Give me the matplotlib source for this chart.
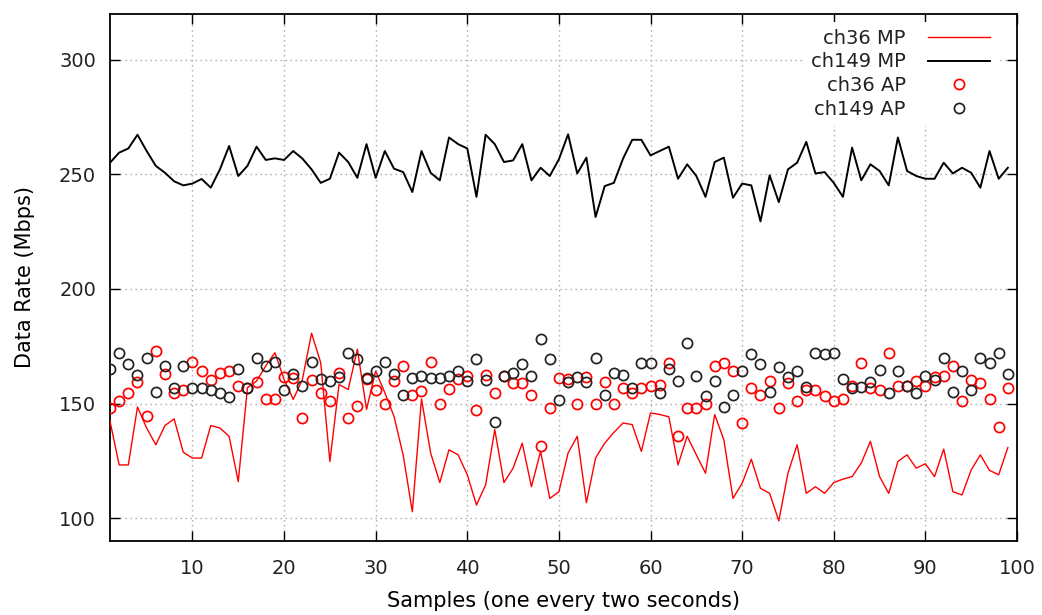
import matplotlib
matplotlib.use("Agg")
import matplotlib.pyplot as plt
import numpy as np

samples = list(range(1, 100))

ch149_mp = [255.1, 259.5, 261.3, 267.3, 260.2, 253.7, 250.7, 247.0, 245.2, 246.0,
            248.0, 244.2, 252.2, 262.4, 249.3, 253.7, 262.1, 256.3, 257.0, 256.3,
            260.2, 256.9, 252.2, 246.3, 248.1, 259.5, 255.4, 248.5, 263.2, 248.5,
            260.2, 252.5, 251.0, 242.3, 260.2, 250.7, 247.4, 266.1, 263.2, 261.3,
            240.2, 267.3, 263.2, 255.4, 256.1, 263.2, 247.4, 252.9, 249.3, 256.6,
            267.5, 250.4, 257.3, 231.4, 244.9, 246.3, 256.9, 265.1, 265.1, 258.3,
            260.2, 262.1, 248.1, 254.4, 249.3, 240.2, 255.4, 257.3, 239.8, 246.0,
            245.2, 229.5, 249.6, 237.9, 252.2, 255.1, 264.2, 250.4, 251.0, 246.3,
            240.2, 261.7, 247.4, 254.4, 251.5, 245.2, 266.1, 251.5, 249.3, 248.1,
            248.1, 255.1, 250.4, 252.9, 250.7, 244.2, 260.2, 248.1, 252.9]

ch36_mp = [142.3, 123.2, 123.2, 148.5, 139.3, 132.0, 140.4, 143.3, 128.7, 126.2,
           126.2, 140.4, 139.3, 135.7, 115.9, 156.9, 159.8, 166.4, 172.2, 160.5,
           151.8, 160.5, 180.7, 167.8, 124.7, 158.3, 156.1, 173.7, 147.4, 164.2,
           154.7, 144.4, 127.5, 102.8, 152.0, 128.4, 115.5, 129.8, 127.6, 118.9,
           105.7, 114.5, 138.6, 115.5, 121.8, 132.7, 113.7, 129.1, 108.6, 111.5,
           128.4, 135.7, 106.7, 126.2, 132.7, 137.4, 141.5, 140.8, 129.1, 145.9,
           145.2, 144.2, 123.2, 135.7, 127.6, 119.6, 145.2, 134.2, 108.6, 115.2,
           125.7, 113.0, 110.8, 98.8, 119.6, 132.0, 110.8, 113.7, 110.8, 115.5,
           117.0, 118.1, 124.0, 133.5, 118.1, 110.8, 124.7, 127.6, 121.8, 123.7,
           118.1, 130.1, 111.5, 110.1, 121.0, 127.6, 120.8, 118.9, 130.8]

ch36_ap = [148.1, 151.3, 154.7, 159.4, 144.4, 173.0, 162.7, 154.7, 156.1, 168.1,
           164.2, 160.1, 163.2, 164.2, 157.6, 156.9, 159.4, 151.8, 151.8, 161.7,
           161.3, 143.7, 160.2, 154.4, 151.0, 163.2, 143.7, 148.8, 160.8, 156.1,
           149.6, 159.8, 166.4, 153.9, 155.4, 168.1, 149.6, 156.4, 160.8, 162.0,
           147.1, 162.3, 154.7, 162.0, 159.1, 159.1, 153.9, 131.3, 148.1, 161.3,
           160.5, 149.6, 161.7, 149.6, 159.4, 149.6, 156.9, 154.7, 156.9, 157.6,
           157.9, 167.8, 136.0, 148.1, 148.1, 149.6, 166.4, 167.5, 164.2, 141.5,
           156.9, 153.9, 159.8, 148.1, 159.1, 151.0, 156.1, 156.1, 153.2, 151.0,
           151.8, 157.6, 167.8, 156.9, 156.1, 172.2, 157.6, 157.6, 159.8, 157.6,
           161.7, 162.0, 166.4, 151.0, 160.2, 159.1, 151.8, 139.8, 156.9]

ch149_ap = [164.9, 172.2, 167.1, 162.3, 170.0, 155.0, 166.4, 156.9, 166.4, 156.9,
            156.9, 156.1, 154.7, 152.9, 164.9, 156.9, 170.0, 166.4, 168.1, 156.1,
            162.7, 157.6, 168.1, 160.8, 159.8, 161.7, 172.2, 169.3, 161.3, 164.2,
            168.1, 162.7, 153.9, 161.3, 162.0, 161.3, 161.3, 162.0, 164.2, 159.8,
            169.3, 160.2, 141.8, 162.0, 163.2, 167.1, 162.0, 178.1, 169.3, 151.5,
            159.4, 161.7, 159.4, 170.0, 153.9, 163.2, 162.3, 156.9, 167.8, 167.8,
            154.4, 164.9, 159.8, 176.6, 162.0, 153.2, 159.8, 148.5, 153.9, 164.2,
            171.5, 167.1, 155.0, 166.1, 161.7, 164.2, 157.3, 172.2, 171.5, 172.2,
            160.8, 156.9, 157.3, 159.4, 164.6, 154.4, 164.2, 157.6, 154.4, 162.0,
            160.2, 170.0, 155.0, 164.2, 156.1, 170.0, 167.8, 172.2, 162.7]

x_ticks = [10, 20, 30, 40, 50, 60, 70, 80, 90, 100]
y_ticks = [100, 150, 200, 250, 300]

plt.rcParams['font.family'] = ['DejaVu Sans']
plt.rcParams['text.color'] = '#222222'

fig = plt.figure(figsize=(10.42, 6.15), dpi=100)
ax = fig.add_axes([110 / 1042, 1 - 541 / 615, 907 / 1042, 527 / 615])

ax.plot(samples, ch36_mp, color='#ff0000', lw=1.0, label='ch36 MP', zorder=3)
ax.plot(samples, ch149_mp, color='black', lw=1.4, label='ch149 MP', zorder=3)
ax.plot(samples, ch36_ap, linestyle='none', marker='o', markersize=7.3,
        markerfacecolor='none', markeredgecolor='#ff0000', markeredgewidth=1.25,
        label='ch36 AP', zorder=4)
ax.plot(samples, ch149_ap, linestyle='none', marker='o', markersize=7.3,
        markerfacecolor='none', markeredgecolor='#222222', markeredgewidth=1.25,
        label='ch149 AP', zorder=4)

ax.set_xlim(1, 100)
ax.set_ylim(90, 320)
ax.set_xticks(x_ticks)
ax.set_yticks(y_ticks)
ax.grid(True, color='#a8a8a8', linestyle=(0, (1, 2.6)), linewidth=1.0)
ax.set_axisbelow(True)

ax.tick_params(direction='in', length=7, width=1.0, top=True, right=True,
               labelsize=14, colors='black', labelcolor='#222222')
ax.tick_params(axis='x', pad=13)
ax.tick_params(axis='y', pad=10)
for sp in ax.spines.values():
    sp.set_linewidth(1.3)
    sp.set_color('black')

ax.set_xlabel('Samples (one every two seconds)', fontsize=15, labelpad=9)
ax.set_ylabel('Data Rate (Mbps)', fontsize=15, labelpad=17)

leg = ax.legend(loc='upper right', bbox_to_anchor=(0.978, 0.985),
                markerfirst=False, frameon=True, framealpha=1.0,
                facecolor='white', edgecolor='none', fancybox=False,
                fontsize=14, handlelength=3.2, handletextpad=1.15,
                labelspacing=0.24, borderpad=0.35, borderaxespad=0.0)
leg.set_zorder(10)

fig.savefig('out.png', dpi=100)
